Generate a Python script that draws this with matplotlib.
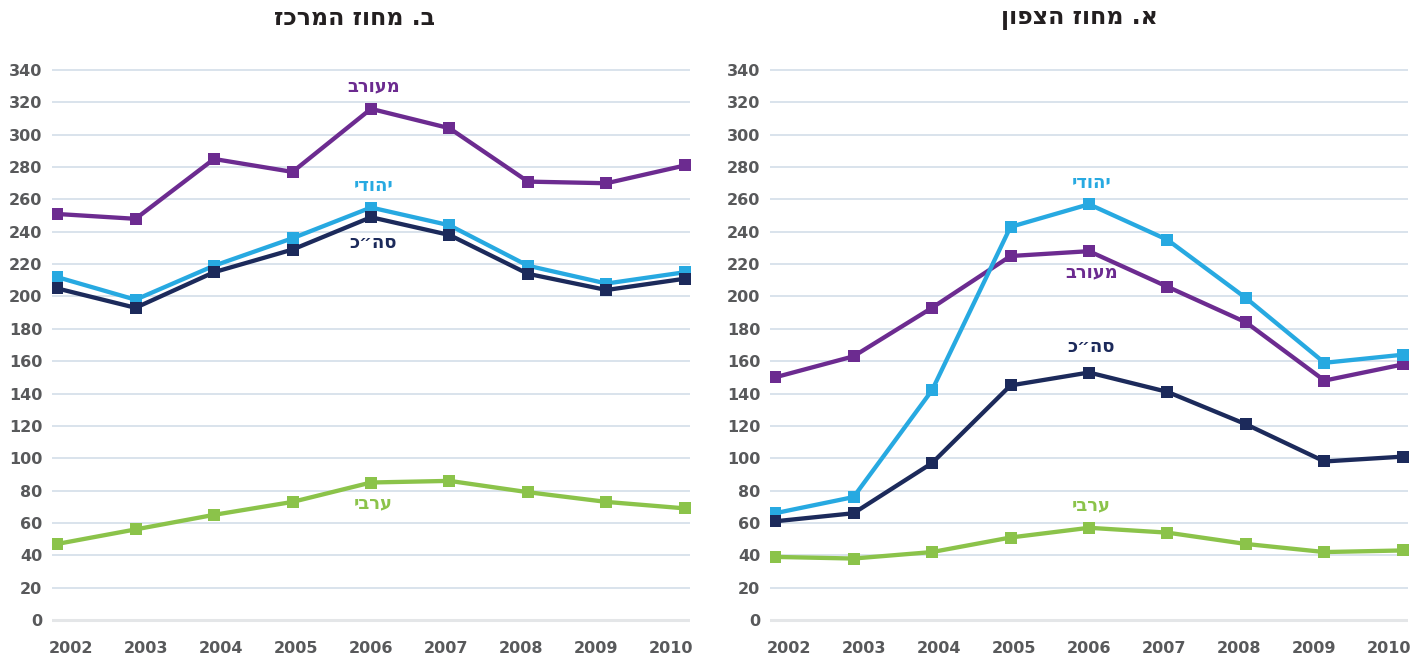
import numpy as np
import matplotlib
matplotlib.use("Agg")
import matplotlib.pyplot as plt

# data
years = [2002, 2003, 2004, 2005, 2006, 2007, 2008, 2009, 2010]
series_names = ["מעורב", "יהודי", 'סה״כ', "ערבי"]
series_colors = ["#6c2b90", "#27a9e1", "#1c2a5b", "#8bc34a"]

center_mixed = [251, 248, 285, 277, 316, 304, 271, 270, 281]
center_jewish = [212, 198, 219, 236, 255, 244, 219, 208, 215]
center_total = [205, 193, 215, 229, 249, 238, 214, 204, 211]
center_arab = [47, 56, 65, 73, 85, 86, 79, 73, 69]

north_mixed = [150, 163, 193, 225, 228, 206, 184, 148, 158]
north_jewish = [66, 76, 142, 243, 257, 235, 199, 159, 164]
north_total = [61, 66, 97, 145, 153, 141, 121, 98, 101]
north_arab = [39, 38, 42, 51, 57, 54, 47, 42, 43]

center_title = "ב. מחוז המרכז"
north_title = "א. מחוז הצפון"

# where the series names sit (x year, y value), same order as series_names
center_label_y = [330, 268, 233, 72]
north_label_y = [215, 270, 169, 71]
label_year = 2006


def rtl(s):
    # matplotlib has no bidi support, so flip hebrew for display
    return s[::-1]


def draw_panel(ax, series, label_y, title, title_x):
    # draw order: mixed, jewish, total, arab
    for vals, col, z in zip(series, series_colors, [2, 3, 4, 5]):
        ax.plot(years, vals, color=col, lw=3.1, marker="s", ms=8.6,
                markeredgewidth=0, zorder=z, solid_joinstyle="miter")
    for name, col, yy in zip(series_names, series_colors, label_y):
        ax.text(label_year + 0.03, yy, rtl(name), color=col, fontsize=13,
                fontweight="bold", ha="center", va="center",
                family=["DejaVu Sans"])

    ax.set_xlim(2001.936, 2010.064)
    ax.set_ylim(-2, 342)
    ticks_y = np.arange(0, 341, 20)
    ax.set_yticks(ticks_y)
    for t in ticks_y:
        if t == 0:
            ax.axhline(t, color="#e4e6e8", lw=2.2, zorder=1)
        else:
            ax.axhline(t, color="#d7e1ea", lw=1.3, zorder=1)
    # year labels sit a bit closer together than the points
    tick_pos = [2006 + (y - 2006) * 0.954 for y in years]
    ax.set_xticks(tick_pos)
    ax.set_xticklabels([str(y) for y in years])
    ax.tick_params(axis="both", length=0, labelsize=11.5, labelcolor="#58595b")
    ax.tick_params(axis="x", pad=13)
    ax.tick_params(axis="y", pad=7)
    for lab in ax.get_xticklabels() + ax.get_yticklabels():
        lab.set_fontweight("bold")
    for sp in ax.spines.values():
        sp.set_visible(False)

    fig.text(title_x, 0.972, rtl(title), fontsize=17, fontweight="bold",
             color="#231f20", ha="center", va="center", family=["DejaVu Sans"])


fig = plt.figure(figsize=(14.26, 6.6), dpi=100)
ppu = 550 / 340
bottom = (40 - 2 * ppu) / 660
height = (550 + 4 * ppu) / 660
ax_left = fig.add_axes([52 / 1426, bottom, 638 / 1426, height])
ax_right = fig.add_axes([770 / 1426, bottom, 638 / 1426, height])

draw_panel(ax_left, [center_mixed, center_jewish, center_total, center_arab],
           center_label_y, center_title, 355 / 1426)
draw_panel(ax_right, [north_mixed, north_jewish, north_total, north_arab],
           north_label_y, north_title, 1079 / 1426)

fig.savefig("out.png", dpi=100)
